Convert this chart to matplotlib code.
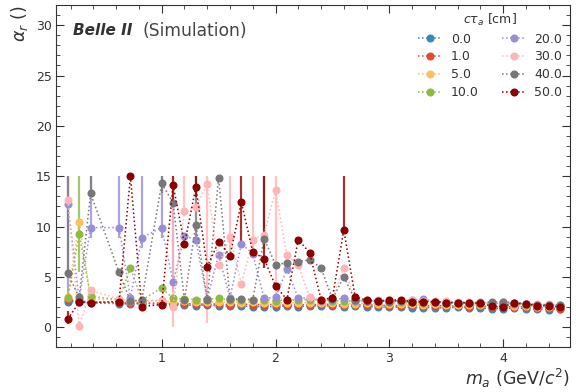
import matplotlib
matplotlib.use("Agg")
import numpy as np
import matplotlib.pyplot as plt
from matplotlib.ticker import MultipleLocator

# axion mass points (GeV/c^2)
mass = [0.175, 0.275, 0.375, 0.625, 0.725, 0.825,
        1.0, 1.1, 1.2, 1.3, 1.4, 1.5, 1.6, 1.7, 1.8, 1.9,
        2.0, 2.1, 2.2, 2.3, 2.4, 2.5, 2.6, 2.7, 2.8, 2.9,
        3.0, 3.1, 3.2, 3.3, 3.4, 3.5, 3.6, 3.7, 3.8, 3.9,
        4.0, 4.1, 4.2, 4.3, 4.4, 4.5]

ctau_labels = ["0.0", "1.0", "5.0", "10.0", "20.0", "30.0", "40.0", "50.0"]
colors = ["#348ABD", "#E24A33", "#FBC15E", "#8EBA42", "#988ED5", "#FFB5B8", "#777777", "#8B0000"]

alpha_0 = [2.55, 2.5, 2.4, 2.35, 2.3, 2.35, 2.3, 2.25, 2.2, 2.15, 2.2, 2.1, 2.1, 2.1, 2.05, 2.05,
           2.05, 2.1, 2.05, 2.1, 2.15, 2.1, 2.05, 2.1, 2.05, 2.0, 2.0, 2.0, 1.95, 1.95, 1.95, 1.9,
           2.0, 1.9, 1.9, 1.85, 1.85, 1.9, 1.85, 1.8, 1.75, 1.8]
alpha_1 = [2.7, 2.6, 2.5, 2.45, 2.45, 2.4, 2.4, 2.35, 2.35, 2.3, 2.3, 2.3, 2.25, 2.3, 2.25, 2.25,
           2.25, 2.2, 2.25, 2.2, 2.3, 2.25, 2.2, 2.25, 2.2, 2.2, 2.15, 2.15, 2.2, 2.1, 2.15, 2.1,
           2.1, 2.05, 2.1, 2.05, 2.0, 2.05, 2.0, 1.95, 1.95, 1.85]
alpha_5 = [2.95, 10.45, 2.8, 2.7, 2.6, 2.65, 2.6, 2.55, 2.6, 2.5, 2.55, 2.5, 2.5, 2.45, 2.5, 2.45,
           2.4, 2.45, 2.4, 2.45, 2.4, 2.4, 2.35, 2.35, 2.4, 2.3, 2.35, 2.3, 2.3, 2.25, 2.3, 2.2,
           2.25, 2.2, 2.2, 2.15, 2.15, 2.1, 2.1, 2.05, 2.0, 2.0]
alpha_10 = [2.85, 9.3, 3.05, 2.75, 5.9, 2.7, 3.9, 2.85, 2.8, 2.75, 2.8, 2.85, 2.7, 2.7, 2.75, 2.7,
            2.65, 2.7, 2.7, 2.75, 2.7, 2.65, 2.6, 2.6, 2.6, 2.55, 2.55, 2.5, 2.5, 2.45, 2.5, 2.4,
            2.45, 2.4, 2.35, 2.35, 2.3, 2.3, 2.25, 2.2, 2.2, 2.15]
alpha_20 = [12.2, 2.75, 9.9, 9.9, 2.9, 8.9, 9.9, 4.45, 9.1, 8.65, 2.8, 7.2, 2.9, 8.3, 7.3, 2.85,
            2.95, 5.75, 2.9, 2.9, 2.6, 2.7, 2.9, 2.65, 2.6, 2.6, 2.6, 2.65, 2.75, 2.8, 2.55, 2.5,
            2.45, 2.45, 2.5, 2.35, 2.35, 2.35, 2.3, 2.25, 2.2, 2.25]
alpha_30 = [12.6, 0.1, 3.65, 2.8, 2.6, 2.6, 2.7, 2.05, 11.55, 11.95, 14.2, 6.15, 9.0, 4.3, 8.7, 9.2,
            13.6, 7.15, 6.15, 3.0, 2.7, 2.9, 5.9, 2.8, 2.75, 2.7, 2.7, 2.65, 2.7, 2.6, 2.6, 2.65,
            2.55, 2.5, 2.45, 2.4, 2.5, 2.45, 2.35, 2.3, 2.3, 2.2]
alpha_40 = [5.35, 2.95, 13.3, 5.45, 2.6, 2.7, 14.3, 12.35, 2.7, 10.2, 2.75, 14.85, 2.8, 2.8, 2.75, 8.8,
            6.2, 6.4, 6.5, 6.7, 5.9, 2.8, 5.0, 2.7, 2.6, 2.6, 2.55, 2.6, 2.5, 2.55, 2.5, 2.45,
            2.4, 2.45, 2.4, 2.5, 2.5, 2.45, 2.3, 2.25, 2.2, 2.2]
alpha_50 = [0.8, 2.5, 2.45, 2.55, 15.0, 2.05, 2.25, 14.15, 8.25, 13.9, 6.0, 8.5, 7.1, 12.4, 7.5, 6.8,
            4.1, 2.75, 8.7, 7.4, 2.75, 2.9, 9.65, 3.0, 2.7, 2.6, 2.7, 2.7, 2.55, 2.55, 2.55, 2.45,
            2.45, 2.4, 2.4, 2.1, 2.05, 2.4, 2.3, 2.15, 2.15, 2.0]

# large (down, up) uncertainties, index -> (lo, hi); all others are small
err_20 = {0: (9.0, 2.8), 2: (1.0, 5.1), 3: (1.0, 5.1), 5: (1.0, 6.1), 6: (1.0, 5.1), 7: (1.0, 8.0)}
err_10 = {1: (3.8, 5.7)}
err_30 = {0: (1.0, 2.4), 1: (0.1, 0.5), 7: (2.05, 12.95), 8: (0.5, 3.45), 10: (13.75, 0.8),
          12: (1.5, 6.0), 14: (1.0, 6.3), 16: (12.1, 1.4)}
err_40 = {0: (0.5, 9.65), 2: (0.3, 1.7), 6: (1.0, 0.7), 9: (1.5, 4.8), 15: (1.0, 6.2)}
err_50 = {0: (0.5, 0.8), 7: (2.0, 0.85), 9: (1.0, 1.1), 13: (4.0, 2.6), 15: (0.9, 8.2), 22: (0.4, 5.35)}

series = [alpha_0, alpha_1, alpha_5, alpha_10, alpha_20, alpha_30, alpha_40, alpha_50]
errors = [{}, {}, {}, err_10, err_20, err_30, err_40, err_50]

txt = "#333333"
plt.rcParams["font.family"] = "DejaVu Sans"
plt.rcParams["text.color"] = txt
plt.rcParams["axes.labelcolor"] = txt
plt.rcParams["xtick.color"] = txt
plt.rcParams["ytick.color"] = txt
plt.rcParams["axes.edgecolor"] = txt

fig = plt.figure(figsize=(5.76, 3.92), dpi=100)
ax = fig.add_axes([0.098, 0.114, 0.892, 0.873])

x = np.array(mass)
handles = []
for y, err, lab, col in zip(series, errors, ctau_labels, colors):
    y = np.array(y)
    lo = np.full(len(y), 0.1)
    hi = np.full(len(y), 0.1)
    for i, (l, h) in err.items():
        lo[i] = l
        hi[i] = h
    # keep error bars inside [0, 15]
    lo = np.minimum(lo, y)
    hi = np.minimum(hi, 15 - y)
    eb = ax.errorbar(x, y, yerr=[lo, hi], fmt="o", ls=":", lw=1.1, ms=4.8,
                     color=col, elinewidth=1.6, capsize=0, label=lab)
    for c in eb[2]:
        c.set_alpha(0.8)
    handles.append(eb[0])

ax.set_xlim(0.075, 4.59)
ax.set_ylim(-2, 32)
ax.xaxis.set_major_locator(MultipleLocator(1))
ax.xaxis.set_minor_locator(MultipleLocator(0.2))
ax.yaxis.set_major_locator(MultipleLocator(5))
ax.yaxis.set_minor_locator(MultipleLocator(1))
ax.tick_params(which="both", direction="in", top=True, right=True, labelsize=9)
ax.tick_params(which="major", length=6)
ax.tick_params(which="minor", length=3)

ax.set_xlabel(r"$m_a$ (GeV/$c^2$)", fontsize=12.5, loc="right", labelpad=1)
ax.set_ylabel(r"$\alpha_r$ ()", fontsize=12.5, loc="top")

ax.text(0.033, 0.925, "Belle II", transform=ax.transAxes, fontsize=11,
        fontweight="bold", fontstyle="italic", va="center")
ax.text(0.167, 0.925, "(Simulation)", transform=ax.transAxes, fontsize=12.3, va="center",
        color="#444444")

ax.legend(handles, ctau_labels, title=r"$c\tau_a$ [cm]", ncol=2, frameon=False, fontsize=9,
          title_fontsize=9, loc="upper right", bbox_to_anchor=(0.994, 0.995),
          borderaxespad=0, handlelength=1.9, columnspacing=1.85,
          handletextpad=0.7, labelspacing=0.38)

fig.savefig("out.png", dpi=100)
